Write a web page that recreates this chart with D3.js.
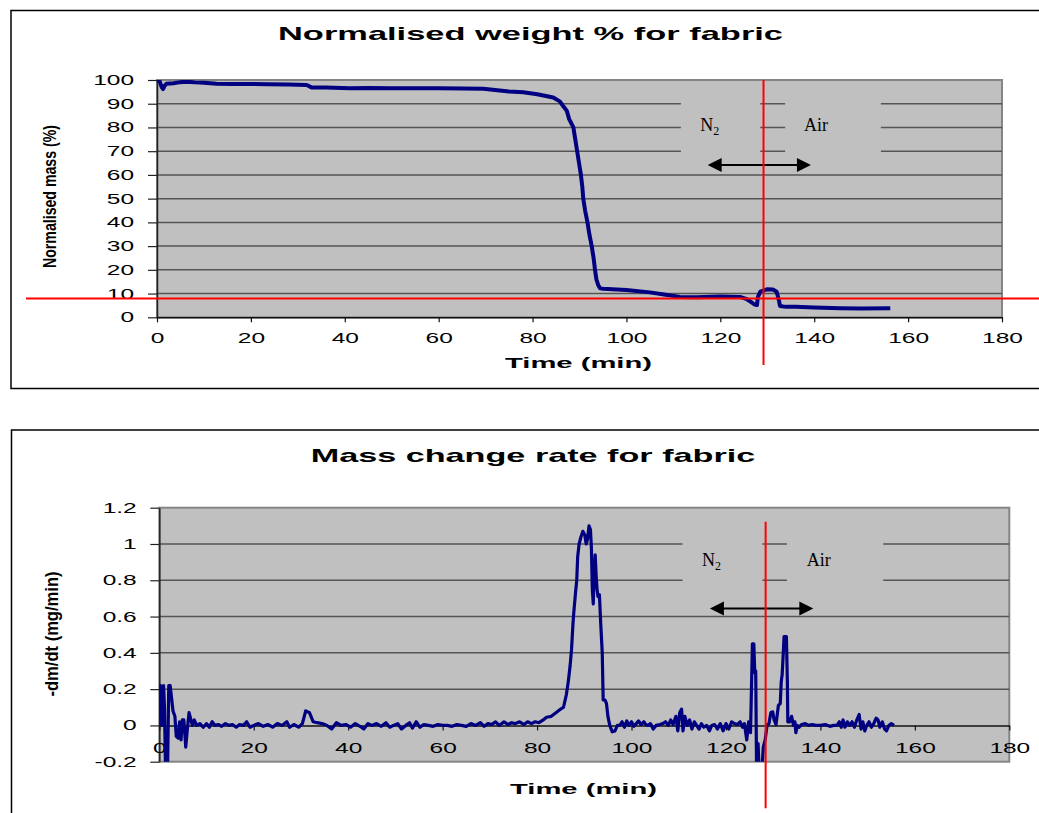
<!DOCTYPE html>
<html>
<head>
<meta charset="utf-8">
<script src="https://cdn.jsdelivr.net/npm/d3@7"></script>
<style>
body { margin: 0; background: #fff; }
text { font-family: "Liberation Sans", Arial, sans-serif; }
text.serif { font-family: "Liberation Serif", "Times New Roman", serif; }
</style>
</head>
<body>
<script>
// Normalised weight (%) vs time (min)
var weightTime = [0, 0.5, 1.0, 1.3, 1.6, 2.0, 3.5, 5.0, 6.3, 8.0, 10, 12.7, 16, 20, 23.4, 28, 31.9, 33.0, 36, 41, 45, 50, 55, 60, 65, 69.5, 72, 75, 78, 81, 84.4, 85.8, 86.6, 87.3, 87.8, 88.7, 89.1, 89.5, 89.9, 90.3, 90.6, 90.8, 91.2, 91.7, 92.1, 92.6, 93.0, 93.3, 93.6, 94.0, 94.4, 95, 100, 105, 108, 111.4, 115, 120, 124.2, 125.5, 126.5, 127.2, 127.8, 128.0, 128.5, 129.9, 131.2, 132.0, 132.5, 132.7, 134, 136, 140, 145.5, 150, 156.2];
var weightPct = [100, 99.8, 97, 96.2, 97.5, 98.4, 98.6, 99.1, 99.3, 99.0, 98.8, 98.4, 98.3, 98.3, 98.2, 98.1, 97.9, 96.8, 96.8, 96.5, 96.6, 96.5, 96.5, 96.5, 96.4, 96.3, 95.8, 95.2, 94.8, 94.0, 92.6, 91.0, 88.8, 87, 83.5, 80, 75, 70, 65, 60, 55, 50, 45, 40, 35, 30, 25, 20, 16, 13.5, 12.2, 12.0, 11.5, 10.5, 9.6, 8.6, 8.5, 8.8, 8.6, 7.8, 6.5, 5.5, 5.2, 8.5, 10.8, 11.8, 11.7, 10.8, 7.0, 4.8, 4.4, 4.4, 4.1, 3.8, 3.7, 3.8];

// Mass change rate -dm/dt (mg/min) vs time (min)
var rateTime = [0, 0.3, 0.6, 0.9, 1.1, 1.35, 1.7, 2.0, 2.3, 2.6, 2.9, 3.3, 3.6, 4.0, 4.3, 4.6, 4.9, 5.2, 5.6, 5.9, 6.3, 6.7, 7.0, 7.4, 7.9, 8.6, 9.3, 10.0, 10.6, 11.2, 11.8, 12.5, 13.2, 14.0, 14.8, 15.5, 16.3, 17.0, 17.8, 18.5, 19.2, 20.0, 21.0, 22.0, 23.0, 24.0, 25.0, 26.0, 27.0, 27.6, 28.5, 29.5, 30.3, 31.0, 31.8, 32.6, 33.4, 34.5, 35.5, 36.5, 37.5, 38.5, 39.5, 40.5, 41.5, 42.5, 43.3, 44.2, 45.0, 46.0, 47.0, 48.0, 48.8, 49.6, 50.5, 51.3, 52.2, 53.0, 53.6, 54.4, 55.2, 56.0, 57.0, 58.0, 59.0, 60.0, 61.0, 62.0, 63.0, 64.0, 65.0, 66.0, 67.0, 68.0, 68.8, 69.6, 70.4, 71.2, 72.0, 73.0, 73.8, 74.6, 75.4, 76.3, 77.2, 78.0, 78.8, 79.6, 80.4, 81.3, 82.0, 83.0, 84.0, 85.0, 85.6, 86.2, 86.6, 87.0, 87.3, 87.6, 87.8, 88.1, 88.4, 88.6, 88.9, 89.3, 89.7, 90.1, 90.4, 90.7, 91.0, 91.3, 91.5, 91.7, 91.9, 92.1, 92.3, 92.5, 92.7, 92.9, 93.2, 93.5, 93.8, 94.0, 94.4, 94.7, 95.0, 95.4, 95.9, 96.5, 97.0, 97.5, 98.0, 98.5, 99.0, 99.5, 100.0, 100.5, 101.0, 101.5, 102.0, 102.6, 103.0, 103.5, 104.0, 104.6, 105.2, 106.0, 106.6, 107.2, 107.8, 108.3, 108.8, 109.4, 109.8, 110.2, 110.6, 110.9, 111.3, 111.8, 112.3, 112.8, 113.3, 113.8, 114.3, 114.8, 115.3, 115.9, 116.5, 117.0, 117.6, 118.2, 118.8, 119.4, 120.0, 120.6, 121.2, 121.8, 122.4, 123.0, 123.5, 123.9, 124.4, 124.8, 125.2, 125.6, 125.9, 126.1, 126.3, 126.5, 126.8, 127.1, 127.5, 127.9, 128.3, 128.7, 129.1, 129.5, 129.9, 130.2, 130.6, 131.1, 131.5, 131.7, 131.9, 132.1, 132.3, 132.8, 133.0, 133.1, 133.5, 133.9, 134.3, 134.6, 134.8, 135.1, 135.5, 136.0, 136.8, 137.5, 138.3, 139.0, 140.0, 141.0, 142.0, 142.8, 143.5, 144.0, 144.4, 144.8, 145.2, 145.7, 146.2, 146.7, 147.2, 147.7, 148.2, 148.6, 149.0, 149.4, 149.8, 150.3, 150.8, 151.3, 151.8, 152.2, 152.6, 153.1, 153.6, 154.0, 154.5, 155.0, 155.6];
var rateValue = [0, 0.22, 0.0, 0.22, 0.1, -0.3, -0.35, 0.22, 0.22, 0.15, 0.08, 0.05, -0.06, -0.07, 0.02, -0.08, 0.03, 0.03, -0.12, -0.03, 0.07, 0.03, 0.0, 0.03, 0.0, 0.01, -0.01, 0.01, -0.01, 0.02, 0.0, 0.005, -0.005, 0.01, 0.0, 0.005, -0.01, 0.005, 0.0, 0.02, -0.01, 0.0, 0.01, -0.005, 0.005, -0.01, 0.01, 0.0, 0.02, -0.01, 0.005, -0.01, 0.01, 0.08, 0.07, 0.02, 0.015, 0.01, 0.0, -0.02, 0.015, 0.0, 0.005, -0.01, 0.01, -0.005, -0.02, 0.01, 0.0, 0.01, -0.005, 0.015, -0.01, 0.0, 0.01, -0.02, 0.0, 0.015, -0.015, 0.02, -0.01, 0.005, 0.0, -0.005, 0.005, 0.0, 0.0, -0.005, 0.005, 0.0, -0.005, 0.01, 0.0, 0.015, -0.005, 0.01, 0.005, 0.02, 0.0, 0.02, 0.005, 0.015, 0.01, 0.02, 0.005, 0.02, 0.01, 0.02, 0.015, 0.03, 0.045, 0.05, 0.07, 0.09, 0.10, 0.17, 0.24, 0.33, 0.42, 0.56, 0.63, 0.72, 0.80, 0.93, 1.0, 1.04, 1.07, 1.05, 1.0, 1.03, 1.10, 1.08, 0.98, 0.75, 0.67, 0.85, 0.94, 0.83, 0.75, 0.71, 0.72, 0.55, 0.40, 0.14, 0.14, 0.12, 0.05, 0.0, -0.035, -0.03, 0.0, 0.0, 0.02, -0.01, 0.025, 0.0, 0.02, -0.005, 0.01, 0.025, 0.005, 0.02, 0.005, 0.0, 0.01, -0.02, 0.0, 0.005, 0.01, 0.02, 0.0, 0.03, 0.005, 0.05, -0.03, 0.07, 0.09, -0.03, 0.05, 0.0, 0.03, -0.02, 0.02, 0.0, -0.02, 0.01, -0.01, 0.0, -0.03, 0.0, 0.005, -0.02, 0.01, -0.03, 0.01, -0.02, 0.02, 0.01, 0.005, 0.02, -0.01, 0.01, -0.08, 0.02, -0.04, 0.45, 0.45, 0.29, 0.30, -0.3, -0.1, -0.3, -0.3, -0.12, -0.08, 0.0, 0.01, 0.07, 0.075, 0.03, 0.005, 0.11, 0.12, 0.24, 0.28, 0.38, 0.49, 0.49, 0.24, 0.02, 0.02, 0.05, 0.0, 0.02, -0.04, 0.0, -0.01, 0.005, 0.01, 0.0, 0.005, 0.0, 0.0, 0.005, -0.005, 0.0, 0.0, 0.02, -0.01, 0.03, -0.01, 0.02, 0.0, 0.02, -0.01, 0.03, 0.06, -0.02, 0.02, -0.03, 0.0, 0.02, -0.01, 0.01, 0.04, 0.03, -0.01, 0.02, -0.02, -0.03, 0.0, 0.01, 0.0];

// tick labels
var timeTicks = [0, 20, 40, 60, 80, 100, 120, 140, 160, 180];
var weightTicks = [0, 10, 20, 30, 40, 50, 60, 70, 80, 90, 100];
var rateTicks = [-0.2, 0, 0.2, 0.4, 0.6, 0.8, 1, 1.2];

var svg = d3.select("body")
    .append("svg")
    .attr("width", 1039)
    .attr("height", 813);

var stretch = 1.75;  // the original's text is wide

function drawPanel(p) {
    // outer frame
    svg.append("rect")
        .attr("x", p.box[0]).attr("y", p.box[1])
        .attr("width", p.box[2]).attr("height", p.box[3])
        .attr("fill", "none").attr("stroke", "#000").attr("stroke-width", 1.5);

    var x = d3.scaleLinear().domain([0, 180]).range([p.left, p.right]);
    var y = d3.scaleLinear().domain(p.yDomain).range([p.bottom, p.top]);

    // plot area
    svg.append("rect")
        .attr("x", p.left).attr("y", p.top)
        .attr("width", p.right - p.left).attr("height", p.bottom - p.top)
        .attr("fill", "#c0c0c0").attr("stroke", "#858585").attr("stroke-width", 2);

    // gridlines
    svg.append("g").selectAll("line")
        .data(p.yTicks.filter(d => d > p.yDomain[0] && d < p.yDomain[1] && d !== 0))
        .enter().append("line")
        .attr("x1", p.left).attr("x2", p.right)
        .attr("y1", d => y(d)).attr("y2", d => y(d))
        .attr("stroke", "#555").attr("stroke-width", 1.5);

    // gray patches behind the N2 / Air labels
    svg.append("g").selectAll("rect")
        .data(p.boxes)
        .enter().append("rect")
        .attr("x", d => x(d[0])).attr("width", d => x(d[1]) - x(d[0]))
        .attr("y", y(p.boxY[1])).attr("height", y(p.boxY[0]) - y(p.boxY[1]))
        .attr("fill", "#c0c0c0");

    // axes
    var leftAxis = d3.axisLeft(y).tickValues(p.yTicks).tickSize(9).tickSizeOuter(0)
        .tickFormat(d => d === 0 ? "0" : String(+d.toFixed(1)));
    var gy = svg.append("g")
        .attr("transform", `translate(${p.left},0)`)
        .call(leftAxis);
    gy.select(".domain").attr("stroke", "#222").attr("stroke-width", 1.5);
    gy.selectAll("line").attr("stroke", "#222").attr("stroke-width", 1.2);
    gy.selectAll("text")
        .attr("font-size", 14).attr("fill", "#000")
        .attr("transform", `scale(${stretch},1)`)
        .attr("x", -p.yPad / stretch);

    var bottomAxis = d3.axisBottom(x).tickValues(timeTicks).tickSize(5).tickSizeOuter(0)
        .tickPadding(p.xPad).tickFormat(d3.format("d"));
    var gx = svg.append("g")
        .attr("transform", `translate(0,${y(0)})`)
        .call(bottomAxis);
    gx.select(".domain").attr("stroke", "#111").attr("stroke-width", 1.5);
    gx.selectAll("line").attr("stroke", "#111").attr("stroke-width", 1.2);
    gx.selectAll("text")
        .attr("font-size", 14).attr("fill", "#000")
        .attr("transform", `scale(${stretch},1)`);

    // series
    var clipId = "clip" + p.id;
    svg.append("clipPath").attr("id", clipId)
        .append("rect")
        .attr("x", p.left).attr("y", p.top)
        .attr("width", p.right - p.left).attr("height", p.bottom - p.top);

    var line = d3.line()
        .x(d => x(d[0]))
        .y(d => y(d[1]));

    svg.append("path")
        .datum(d3.zip(p.xs, p.ys))
        .attr("clip-path", `url(#${clipId})`)
        .attr("d", line)
        .attr("fill", "none")
        .attr("stroke", "#000080")
        .attr("stroke-width", p.lineWidth)
        .attr("stroke-linejoin", "round");

    // N2 / Air labels
    var n2 = svg.append("text")
        .attr("class", "serif")
        .attr("x", x(p.n2Label[0])).attr("y", y(p.n2Label[1]))
        .attr("font-size", 18);
    n2.append("tspan").text("N");
    n2.append("tspan").attr("font-size", 12).attr("dy", 4).text("2");

    svg.append("text")
        .attr("class", "serif")
        .attr("x", x(p.airLabel[0])).attr("y", y(p.airLabel[1]))
        .attr("font-size", 18)
        .text("Air");

    // double-headed arrow
    var ax1 = x(p.arrow[0]), ax2 = x(p.arrow[1]), ay = y(p.arrow[2]);
    svg.append("line")
        .attr("x1", ax1 + 8).attr("x2", ax2 - 8)
        .attr("y1", ay).attr("y2", ay)
        .attr("stroke", "#000").attr("stroke-width", 2);
    svg.append("path")
        .attr("d", `M${ax1},${ay}L${ax1 + 14},${ay - 7}L${ax1 + 14},${ay + 7}Z` +
                   `M${ax2},${ay}L${ax2 - 14},${ay - 7}L${ax2 - 14},${ay + 7}Z`)
        .attr("fill", "#000");

    // red marker lines
    svg.append("line")
        .attr("x1", x(p.redV[0])).attr("x2", x(p.redV[0]))
        .attr("y1", y(p.redV[1])).attr("y2", y(p.redV[2]))
        .attr("stroke", "#ff0000").attr("stroke-width", 2);
    if (p.redH) {
        svg.append("line")
            .attr("x1", x(p.redH[1])).attr("x2", x(p.redH[2]))
            .attr("y1", y(p.redH[0])).attr("y2", y(p.redH[0]))
            .attr("stroke", "#ff0000").attr("stroke-width", 2);
    }

    // titles
    svg.append("text")
        .attr("x", p.title[1]).attr("y", p.title[3])
        .attr("font-size", 18.5).attr("font-weight", "bold")
        .attr("textLength", p.title[2] - p.title[1])
        .attr("lengthAdjust", "spacingAndGlyphs")
        .text(p.title[0]);

    svg.append("text")
        .attr("x", p.xTitle[0]).attr("y", p.xTitle[2])
        .attr("font-size", 14).attr("font-weight", "bold")
        .attr("textLength", p.xTitle[1] - p.xTitle[0])
        .attr("lengthAdjust", "spacingAndGlyphs")
        .text("Time (min)");

    svg.append("text")
        .attr("transform", `translate(${p.yTitle[1]},${p.yTitle[2]}) rotate(-90)`)
        .attr("text-anchor", "middle")
        .attr("font-size", 19).attr("font-weight", "bold")
        .attr("textLength", p.yTitle[3])
        .attr("lengthAdjust", "spacingAndGlyphs")
        .text(p.yTitle[0]);
}

drawPanel({
    id: "top",
    box: [11, 10.5, 1040, 378],
    left: 157, right: 1002, top: 80, bottom: 317.3,
    yDomain: [0, 100], yTicks: weightTicks,
    yPad: 23, xPad: 11,
    xs: weightTime, ys: weightPct, lineWidth: 4,
    boxes: [[111.6, 128.5], [133.8, 154.2]], boxY: [66, 96.5],
    n2Label: [115.7, 78.5], airLabel: [137.8, 78.5],
    arrow: [117.3, 139.3, 64.2],
    redV: [129.2, 100, -20.1],
    redH: [7.9, -27.9, 190],
    title: ["Normalised weight % for fabric", 278, 783, 40],
    xTitle: [505, 652, 368],
    yTitle: ["Normalised mass (%)", 56, 196.5, 143]
});

drawPanel({
    id: "bottom",
    box: [11.5, 430, 1040, 400],
    left: 159.3, right: 1009.3, top: 507.7, bottom: 761.7,
    yDomain: [-0.2, 1.2], yTicks: rateTicks,
    yPad: 22.6, xPad: 13,
    xs: rateTime, ys: rateValue, lineWidth: 3.2,
    boxes: [[110.8, 127.7], [132.9, 153.3]], boxY: [0.69, 1.13],
    n2Label: [114.9, 0.878], airLabel: [137.1, 0.878],
    arrow: [116.6, 138.5, 0.645],
    redV: [128.4, 1.122, -0.457],
    redH: null,
    title: ["Mass change rate for fabric", 310.7, 755.3, 462],
    xTitle: [510, 657, 794],
    yTitle: ["-dm/dt (mg/min)", 58, 634, 125]
});
</script>
</body>
</html>
